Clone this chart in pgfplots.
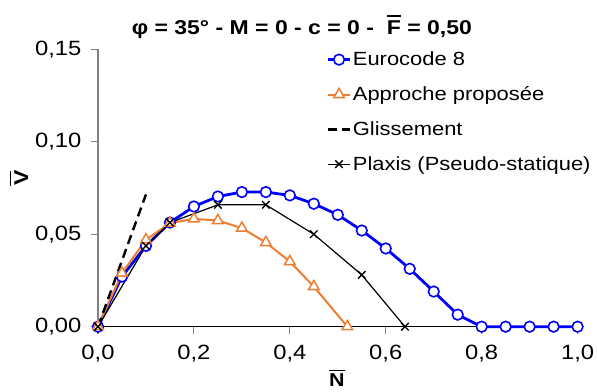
\documentclass[border=0pt]{standalone}
\usepackage{fontspec}
\setmainfont[FakeStretch=1.15]{Liberation Sans}
\usepackage{pgfplots}
\pgfplotsset{compat=1.18}
\definecolor{ecblue}{RGB}{0,0,255}
\definecolor{aporange}{RGB}{237,125,49}
\definecolor{axgray}{RGB}{128,128,128}
\newcommand\ovl[2][1.2pt]{\leavevmode\vbox{\hrule height #1\kern 2.2pt\hbox{#2}}}
\begin{document}
\begin{tikzpicture}
\path[use as bounding box] (0pt,0pt) rectangle (447.75pt,294pt);
\begin{axis}[
  at={(73.5pt,48.98pt)}, anchor=south west,
  scale only axis, width=359.7pt, height=208.05pt,
  xmin=0, xmax=1, ymin=0, ymax=0.15,
  axis x line*=bottom, axis y line*=left,
  x axis line style={black, line width=0.8pt, -},
  y axis line style={axgray, line width=0.8pt, -},
  xtick={0,0.2,0.4,0.6,0.8,1.0},
  ytick={0,0.05,0.10,0.15},
  tick align=outside,
  major tick length=5.25pt,
  tick style={axgray, line width=0.8pt},
  /pgf/number format/assume math mode=true,
  xticklabel style={/pgf/number format/fixed, /pgf/number format/fixed zerofill, /pgf/number format/precision=1, /pgf/number format/use comma, yshift=-8.5pt},
  yticklabel style={/pgf/number format/fixed, /pgf/number format/fixed zerofill, /pgf/number format/precision=2, /pgf/number format/use comma, xshift=-7pt},
  scaled ticks=false,
  ticklabel style={font=\fontsize{15.5}{18}\selectfont, inner sep=0pt},
  clip=false,
  legend style={draw=none, fill=none, at={(axis description cs:0.4754,0.996)}, anchor=north west,
    inner sep=0pt, font=\fontsize{14.3}{17}\selectfont, row sep=12.6pt,
    nodes={inner sep=0.8pt}},
  legend cell align=left,
]
\addplot[color=ecblue, line width=2.1pt, mark=*, mark size=4pt,
  mark options={fill=white, draw=ecblue, line width=1.2pt}]
  coordinates {(0,0) (0.05,0.0271) (0.1,0.0437) (0.15,0.0563) (0.2,0.0650) (0.25,0.0704)
  (0.3,0.0728) (0.35,0.0728) (0.4,0.0710) (0.45,0.0665) (0.5,0.0605) (0.55,0.0520)
  (0.6,0.0423) (0.65,0.0313) (0.7,0.0190) (0.75,0.0065) (0.8,0) (0.85,0) (0.9,0) (0.95,0) (1.0,0)};
\addlegendentry{Eurocode 8}
\addplot[color=aporange, line width=1.5pt, mark=triangle*, mark size=4.6pt,
  mark options={fill=white, draw=aporange, line width=1.1pt}]
  coordinates {(0,0) (0.05,0.029) (0.1,0.047) (0.15,0.056) (0.2,0.0583) (0.25,0.0574)
  (0.3,0.0533) (0.35,0.0455) (0.4,0.0352) (0.45,0.0217) (0.52,0)};
\addlegendentry{Approche proposée}
\addplot[black, line width=1.8pt, dash pattern=on 7pt off 4pt]
  coordinates {(0,0) (0.1,0.0715)};
\addlegendentry{Glissement}
\addplot[black, line width=0.9pt, mark=x, mark size=4pt, mark options={line width=1pt}]
  coordinates {(0,0) (0.1,0.0437) (0.15,0.0563) (0.25,0.0659) (0.35,0.0659) (0.45,0.0500) (0.55,0.0280) (0.64,0)};
\addlegendentry{Plaxis (Pseudo-statique)}
\node[font=\fontsize{15}{18}\selectfont\bfseries, anchor=base] at (axis description cs:0.425,1.055)
  {φ = 35° - M = 0 - c = 0 -\ \ \ovl[1.4pt]{F} = 0,50};
\node[font=\fontsize{15}{18}\selectfont\bfseries, rotate=90, anchor=center] at (axis description cs:-0.165,0.535)
  {\ovl[1.2pt]{V}};
\node[font=\fontsize{14}{17}\selectfont\bfseries, anchor=south, inner sep=0pt] at (axis description cs:0.498,-0.218)
  {\ovl[1.2pt]{N}};
\end{axis}
\end{tikzpicture}
\end{document}
